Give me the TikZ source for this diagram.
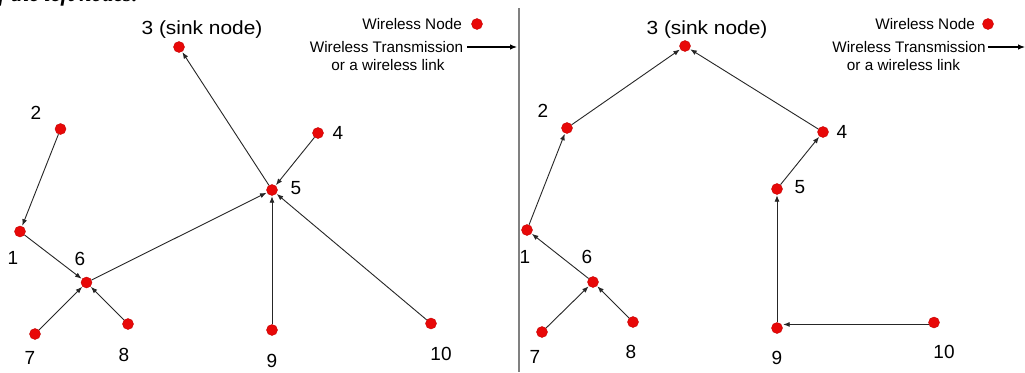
\documentclass[tikz,border=0pt]{standalone}
\usepackage{fontspec}
\setmainfont{Liberation Sans}
\newfontfamily\capfont{Liberation Serif}
\usetikzlibrary{arrows.meta}
\definecolor{nodered}{RGB}{232,8,8}
\definecolor{sepgray}{RGB}{128,128,128}
\tikzset{
  wn/.style={circle, fill=nodered, draw=nodered!85!black, line width=0.4pt, inner sep=0pt, minimum size=11pt},
  lbl/.style={inner sep=0pt, font=\fontsize{19}{19}\selectfont},
  sinklbl/.style={inner sep=0pt, font=\fontsize{19}{19}\selectfont, xscale=1.1},
  leg/.style={inner sep=0pt, font=\fontsize{15.3}{15.3}\selectfont},
  link/.style={-{Latex[length=6.5pt,width=5pt]}, line width=0.9pt, draw=black!85, shorten >=0.5pt},
  legarrow/.style={-{Latex[length=7pt,width=5.5pt]}, line width=1.1pt, draw=black}
}
\begin{document}
\begin{tikzpicture}[x=1pt,y=-1pt]
\useasboundingbox (0,0) rectangle (1025,372);
\clip (0,0) rectangle (1025,372);
\fill[white] (0,0) rectangle (1025,372);
% cropped caption fragment
\node[anchor=base west, inner sep=0pt, font=\capfont\bfseries\itshape\fontsize{22}{22}\selectfont] (cap) at (-2,1.5) {f the left nodes.};
% separator
\draw[sepgray, line width=1.5pt] (519,8) -- (519,372);

% ===== left panel =====
\node[wn] (L3) at (179,47) {};
\node[wn] (L2) at (60.5,129) {};
\node[wn] (L1) at (20,231.5) {};
\node[wn] (L6) at (86.5,282.5) {};
\node[wn] (L7) at (35,334) {};
\node[wn] (L8) at (128,324) {};
\node[wn] (L5) at (272,190) {};
\node[wn] (L4) at (318,133) {};
\node[wn] (L9) at (272,330) {};
\node[wn] (L10) at (431,323.5) {};

\node[sinklbl] (tL3) at (202,30) {3 (sink node)};
\node[lbl] (tL2) at (36,112.5) {2};
\node[lbl] (tL1) at (13,258) {1};
\node[lbl] (tL6) at (80,259) {6};
\node[lbl] (tL7) at (30,358) {7};
\node[lbl] (tL8) at (124,355) {8};
\node[lbl] (tL5) at (296,188) {5};
\node[lbl] (tL4) at (338,133) {4};
\node[lbl] (tL9) at (272,361) {9};
\node[lbl] (tL10) at (441,354) {10};

\draw[link] (L2) -- (L1);
\draw[link] (L1) -- (L6);
\draw[link] (L7) -- (L6);
\draw[link] (L8) -- (L6);
\draw[link] (L6) -- (L5);
\draw[link] (L4) -- (L5);
\draw[link] (L9) -- (L5);
\draw[link] (L10) -- (L5);
\draw[link] (L5) -- (L3);

% left legend
\node[leg, anchor=east] (lgn) at (462,24) {Wireless Node};
\node[wn] (lgd) at (477,24) {};
\node[leg] (lgt1) at (386.5,47) {Wireless Transmission};
\node[leg] (lgt2) at (388,65) {or a wireless link};
\coordinate (lga) at (517,47);
\draw[legarrow] (lgt1.east) ++(4,0) coordinate (lgs) -- (lga);

% ===== right panel =====
\node[wn] (R3) at (685,46) {};
\node[wn] (R2) at (567,128) {};
\node[wn] (R1) at (527,230) {};
\node[wn] (R6) at (593,282) {};
\node[wn] (R7) at (542,332) {};
\node[wn] (R8) at (633,322) {};
\node[wn] (R4) at (823,132) {};
\node[wn] (R5) at (777,189) {};
\node[wn] (R9) at (777,328) {};
\node[wn] (R10) at (934,322.5) {};

\node[sinklbl] (tR3) at (707,30) {3 (sink node)};
\node[lbl] (tR2) at (543,111) {2};
\node[lbl] (tR1) at (525,257) {1};
\node[lbl] (tR6) at (587,257) {6};
\node[lbl] (tR7) at (535,357) {7};
\node[lbl] (tR8) at (631,352) {8};
\node[lbl] (tR4) at (842,132) {4};
\node[lbl] (tR5) at (800,187) {5};
\node[lbl] (tR9) at (777,358) {9};
\node[lbl] (tR10) at (944,352) {10};

\draw[link] (R1) -- (R2);
\draw[link] (R2) -- (R3);
\draw[link] (R4) -- (R3);
\draw[link] (R5) -- (R4);
\draw[link] (R9) -- (R5);
\draw[link] (R10.200) -- (R9.east |- R10.200);
\draw[link] (R6) -- (R1);
\draw[link] (R7) -- (R6);
\draw[link] (R8) -- (R6);

% right legend
\node[leg, anchor=east] (rgn) at (975,24) {Wireless Node};
\node[wn] (rgd) at (988,24) {};
\node[leg] (rgt1) at (909,47) {Wireless Transmission};
\node[leg] (rgt2) at (903.5,65) {or a wireless link};
\coordinate (rga) at (1025,47);
\draw[legarrow] (rgt1.east) ++(2,0) coordinate (rgs) -- (rga);
\end{tikzpicture}
\end{document}
